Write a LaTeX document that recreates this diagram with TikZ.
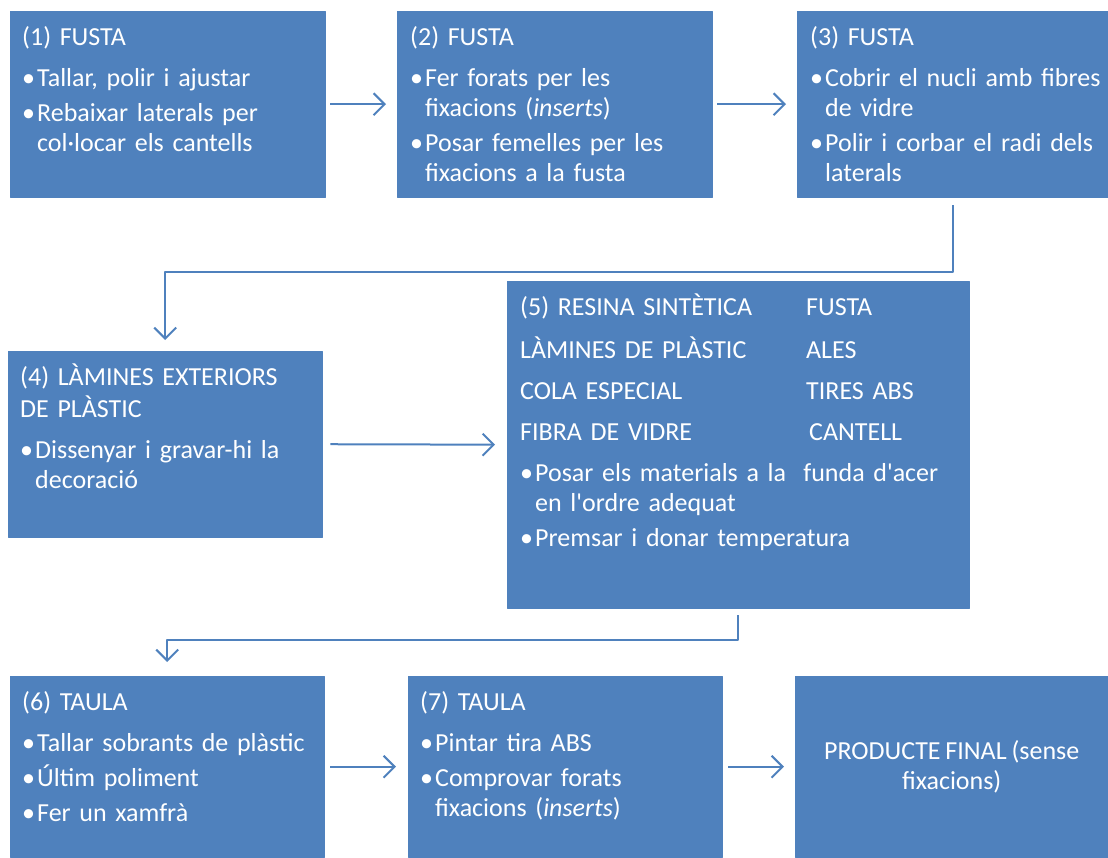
\documentclass[tikz,border=0pt]{standalone}
\usepackage{fontspec}
\setmainfont{Carlito}
\usetikzlibrary{arrows.meta}
\definecolor{boxblue}{HTML}{4F81BD}
\newcommand{\boxfont}{\fontsize{26}{30}\selectfont\spaceskip=4.8pt plus 1pt\relax}
\newcommand{\ttl}[1]{\strut#1\par\vspace{11pt}}
\newcommand{\itm}[1]{\hangindent=15pt\hangafter=1\noindent\makebox[15pt][l]{\textbullet}#1\par\vspace{5pt}}
\newcommand{\mrow}[2]{\strut\makebox[286pt][l]{#1}#2\par\vspace{11pt}}
\begin{document}
\begin{tikzpicture}[x=1pt, y=-1pt, line join=round, font=\boxfont,
    box/.style={fill=boxblue, draw=boxblue, inner sep=0pt, anchor=north west, text=white, align=center},
    txt/.style={anchor=north west, inner sep=0pt, text=white, align=left, text width=#1},
    conn/.style={draw=boxblue, line width=2pt, -{Straight Barb[length=11pt, width=22pt]}}]
    \useasboundingbox (0,0) rectangle (1108,857);
    % boxes
    \node[box, minimum width=315pt, minimum height=186pt] (b1) at (10,11) {};
    \node[box, minimum width=315pt, minimum height=186pt] (b2) at (397,11) {};
    \node[box, minimum width=311pt, minimum height=186pt] (b3) at (797,11) {};
    \node[box, minimum width=314pt, minimum height=186pt] (b4) at (8,351) {};
    \node[box, minimum width=462pt, minimum height=327pt] (b5) at (507,281) {};
    \node[box, minimum width=314pt, minimum height=181pt] (b6) at (10,676) {};
    \node[box, minimum width=314pt, minimum height=181pt] (b7) at (408,676) {};
    \node[box, minimum width=313pt, minimum height=181pt] (b8) at (795,676) {PRODUCTE FINAL (sense\\fixacions)};
    % texts
    \node[txt=300pt] (t1) at ([shift={(12,13)}]b1.north west) {\ttl{(1) FUSTA}\itm{Tallar, polir i ajustar}\itm{Rebaixar laterals per\newline col·locar els cantells}};
    \node[txt=300pt] (t2) at ([shift={(13,13)}]b2.north west) {\ttl{(2) FUSTA}\itm{Fer forats per les\newline fixacions (\textit{inserts})}\itm{Posar femelles per les\newline fixacions a la fusta}};
    \node[txt=300pt] (t3) at ([shift={(13,13)}]b3.north west) {\ttl{(3) FUSTA}\itm{Cobrir el nucli amb fibres\newline de vidre}\itm{Polir i corbar el radi dels\newline laterals}};
    \node[txt=300pt] (t4) at ([shift={(12,13)}]b4.north west) {\ttl{(4) LÀMINES EXTERIORS\newline DE PLÀSTIC}\itm{Dissenyar i gravar-hi la\newline decoració}};
    \node[txt=445pt] (t5) at ([shift={(13,13)}]b5.north west) {\mrow{(5) RESINA SINTÈTICA}{FUSTA}\mrow{LÀMINES DE PLÀSTIC}{ALES}\mrow{COLA ESPECIAL}{TIRES ABS}\mrow{FIBRA DE VIDRE}{\hspace{3pt}CANTELL}\itm{Posar els materials a la\ \ funda d\textquotesingle acer\newline en l\textquotesingle ordre adequat}\itm{Premsar i donar temperatura}};
    \node[txt=300pt] (t6) at ([shift={(12,13)}]b6.north west) {\ttl{(6) TAULA}\itm{Tallar sobrants de plàstic}\itm{Últim poliment}\itm{Fer un xamfrà}};
    \node[txt=300pt] (t7) at ([shift={(12,13)}]b7.north west) {\ttl{(7) TAULA}\itm{Pintar tira ABS}\itm{Comprovar forats\newline fixacions (\textit{inserts})}};
    % connectors
    \coordinate (k1) at (0,272);
    \coordinate (k2) at (0,640);
    \draw[conn, shorten <=5pt, shorten >=11pt] (b1.east) -- (b2.west);
    \draw[conn, shorten <=5pt, shorten >=11pt] (b2.east) -- (b3.west);
    \draw[conn, shorten <=8pt, shorten >=11pt] (b3.south) -- (b3.south |- k1) -| (b4.north);
    \draw[conn, shorten <=8pt, shorten >=12pt] (b4.east) -- (b5.west);
    \draw[conn, shorten <=7pt, shorten >=14pt] (b5.south) -- (b5.south |- k2) -| (b6.north);
    \draw[conn, shorten <=6pt, shorten >=12pt] (b6.east) -- (b7.west);
    \draw[conn, shorten <=6pt, shorten >=11pt] (b7.east) -- (b8.west);
\end{tikzpicture}
\end{document}
